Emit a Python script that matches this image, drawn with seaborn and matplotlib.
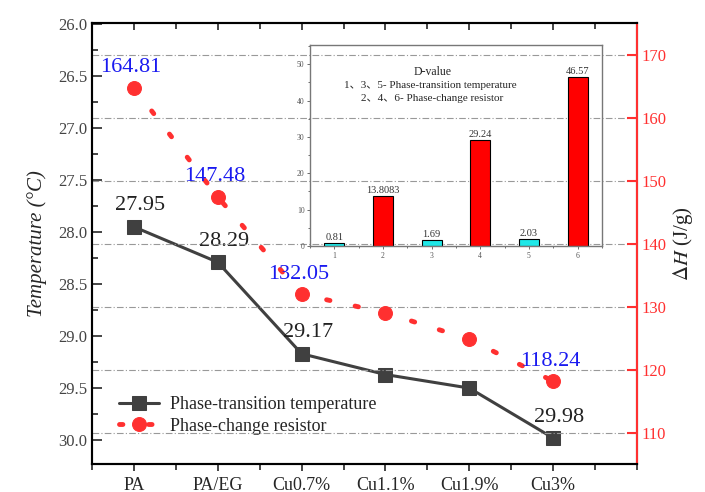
import numpy as np
import pandas as pd
import seaborn as sns
import matplotlib.pyplot as plt
from matplotlib.ticker import MultipleLocator, FormatStrFormatter

# main chart data
samples = ["PA", "PA/EG", "Cu0.7%", "Cu1.1%", "Cu1.9%", "Cu3%"]
temperature = [27.95, 28.29, 29.17, 29.37, 29.50, 29.98]
enthalpy = [164.81, 147.48, 132.05, 129.10, 124.90, 118.24]
temp_labels = ["27.95", "28.29", "29.17", "", "", "29.98"]
enthalpy_labels = ["164.81", "147.48", "132.05", "", "", "118.24"]

# inset (D-value) data
dvalue_idx = ["1", "2", "3", "4", "5", "6"]
dvalue = [0.81, 13.8083, 1.69, 29.24, 2.03, 46.57]
dvalue_labels = ["0.81", "13.8083", "1.69", "29.24", "2.03", "46.57"]

GRAY = "#404040"
RED = "#FF3030"
BLUE = "#1A1AF0"
CYAN = "#1FE8E8"

sns.set_style("ticks")
plt.rcParams["font.family"] = ["Liberation Serif", "Noto Sans CJK SC"]
plt.rcParams["mathtext.fontset"] = "stix"

fig, ax = plt.subplots(figsize=(7.05, 4.92), dpi=100)
fig.subplots_adjust(left=0.1305, right=0.9035, top=0.9533, bottom=0.0569)
ax2 = ax.twinx()

df = pd.DataFrame({
    "pos": np.arange(len(samples)),
    "temperature": temperature,
    "enthalpy": enthalpy,
})

sns.lineplot(data=df, x="pos", y="temperature", ax=ax, color=GRAY, lw=2.2,
             marker="s", markersize=10.5, markeredgecolor=GRAY, sort=False,
             label="Phase-transition temperature", zorder=3)
sns.lineplot(data=df, x="pos", y="enthalpy", ax=ax2, color=RED, lw=3.5,
             ls=(0, (0.7, 5.3)), dash_capstyle="round",
             marker="o", markersize=10, markeredgecolor=RED, sort=False,
             label="Phase-change resistor", zorder=3)

# value labels (drawn above the lines)
for i, lbl in enumerate(temp_labels):
    if lbl:
        ax.annotate(lbl, (i, temperature[i]), xytext=(6, 21), textcoords="offset pixels",
                    ha="center", va="center", fontsize=16, color="#222222", zorder=6)
for i, lbl in enumerate(enthalpy_labels):
    if lbl:
        ax2.annotate(lbl, (i, enthalpy[i]), xytext=(-3, 20), textcoords="offset pixels",
                     ha="center", va="center", fontsize=16, color=BLUE, zorder=6)

# x axis
ax.set_xlim(-0.5, 6.0)
ax.set_xticks(range(len(samples)), samples)
ax.xaxis.set_minor_locator(MultipleLocator(0.5))
ax.set_xlabel("")
ax.tick_params(axis="x", which="major", direction="out", length=5, width=1.2,
               labelsize=13, top=True, pad=4)
ax.tick_params(axis="x", which="minor", direction="out", length=4, width=1.2, top=True)
# top ticks point inward
for t in ax.xaxis.get_major_ticks() + ax.xaxis.get_minor_ticks():
    t.tick2line.set_marker(3)

# left axis (inverted)
ax.set_ylim(30.23, 25.99)
ax.yaxis.set_major_locator(MultipleLocator(0.5))
ax.yaxis.set_minor_locator(MultipleLocator(0.25))
ax.yaxis.set_major_formatter(FormatStrFormatter("%.1f"))
ax.tick_params(axis="y", which="major", direction="in", length=7, width=1.2,
               labelsize=12, labelcolor="#444444")
ax.tick_params(axis="y", which="minor", direction="in", length=4, width=1.2)
ax.set_ylabel("Temperature (°C)", fontsize=15, style="italic", labelpad=8)

# right axis
ax2.set_ylim(105.1, 175.1)
ax2.set_yticks(range(110, 171, 10))
ax2.tick_params(axis="y", direction="in", length=7, width=1.5, colors=RED, labelsize=12)
ax2.set_ylabel(r"$\Delta\mathit{H}$ (J/g)", fontsize=15, labelpad=3)
ax2.yaxis.grid(True, color="#999999", ls=(0, (6, 2, 1, 2)), lw=0.8)
ax2.set_axisbelow(True)

for a in (ax, ax2):
    for s in a.spines.values():
        s.set_linewidth(1.5)
        s.set_color("black")
ax.spines["left"].set_color("#333333")
ax2.spines["right"].set_color(RED)

# legend
h1, l1 = ax.get_legend_handles_labels()
h2, l2 = ax2.get_legend_handles_labels()
if ax2.get_legend():
    ax2.get_legend().remove()
ax.legend(h1 + h2, l1 + l2, loc="lower left", bbox_to_anchor=(0.02, 0.03),
          frameon=False, fontsize=13, handlelength=2.2, labelspacing=0.25,
          handletextpad=0.6)

# inset bar chart
ax_in = fig.add_axes([0.4397, 0.5, 0.414, 0.4085])
ax_in.set_facecolor("none")
sns.barplot(x=dvalue_idx, y=dvalue, hue=dvalue_idx,
            palette=[CYAN, "#FF0000", CYAN, "#FF0000", CYAN, "#FF0000"],
            saturation=1, width=0.41, edgecolor="black", linewidth=0.8,
            legend=False, ax=ax_in)
for i, lbl in enumerate(dvalue_labels):
    ax_in.text(i, dvalue[i] + 0.2, lbl, ha="center", va="bottom", fontsize=7.5, color="#333333")
ax_in.set_xlim(-0.47, 5.5)
ax_in.set_ylim(0, 55.3)
ax_in.yaxis.set_major_locator(MultipleLocator(10))
ax_in.yaxis.set_minor_locator(MultipleLocator(5))
ax_in.set_xticks(np.arange(-0.5, 5.6, 1.0), minor=True)
ax_in.tick_params(which="both", direction="out", length=2, width=0.6, labelsize=5.5,
                  colors="#555555", pad=2)
ax_in.tick_params(which="minor", length=1.5)
for s in ax_in.spines.values():
    s.set_color("#777777")
    s.set_linewidth(1.0)
ax_in.text(0.421, 0.866, "D-value", transform=ax_in.transAxes, ha="center", va="center", fontsize=8.5)
ax_in.text(0.411, 0.80, "1、3、5- Phase-transition temperature", transform=ax_in.transAxes,
           ha="center", va="center", fontsize=8)
ax_in.text(0.418, 0.736, "2、4、6- Phase-change resistor", transform=ax_in.transAxes,
           ha="center", va="center", fontsize=8)

fig.savefig("out.png", dpi=100, facecolor="white")
